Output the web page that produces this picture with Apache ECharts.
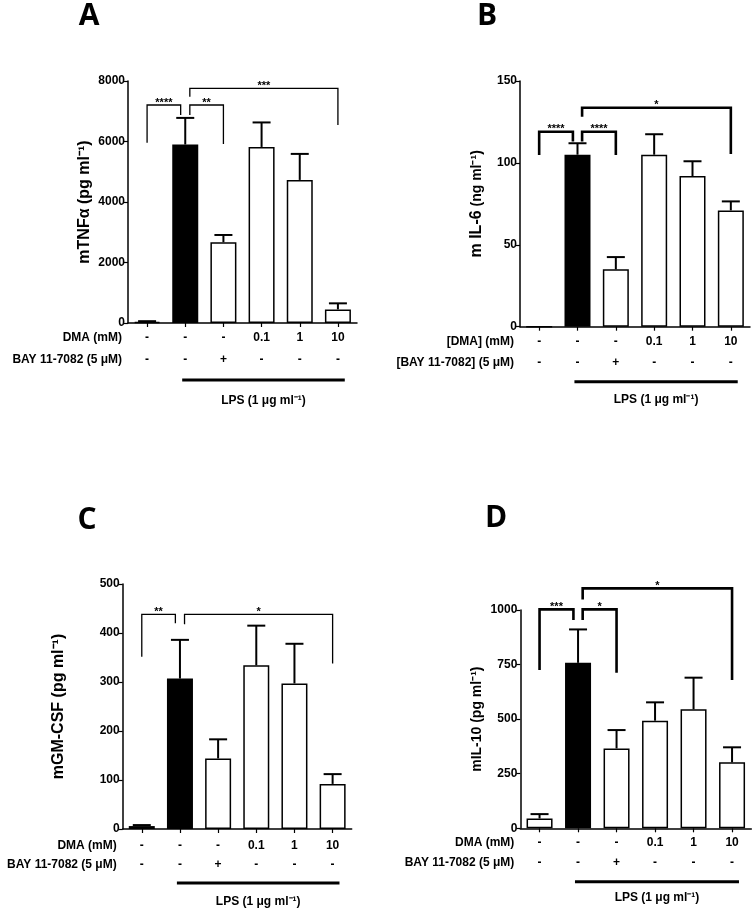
<!DOCTYPE html>
<html><head><meta charset="utf-8">
<script src="https://cdn.jsdelivr.net/npm/echarts@6/dist/echarts.min.js"></script>
<style>html,body{margin:0;padding:0;background:#fff}#c{width:754px;height:909px}</style>
</head><body><div id="c"></div>
<script>
// ---------- data ----------
const categories = ['g1', 'g2', 'g3', 'g4', 'g5', 'g6'];
const dmaLabels = ['-', '-', '-', '0.1', '1', '10'];
const bayLabels = ['-', '-', '+', '-', '-', '-'];

const tnfMean = [40, 5900, 2670, 5820, 4730, 450];
const tnfErr  = [20, 880, 240, 810, 860, 200];
const il6Mean = [0, 105, 35, 105, 92, 71];
const il6Err  = [0, 7, 7.5, 12.5, 9, 5.5];
const gmMean  = [6, 307, 144, 334, 297, 92];
const gmErr   = [2, 79, 39, 81, 81, 20];
const il10Mean = [45, 758, 366, 493, 545, 302];
const il10Err  = [20, 153, 84, 84, 145, 69];

// y axis [min, max, interval]
const tnfAxis = [0, 8000, 2000];
const il6Axis = [0, 150, 50];
const gmAxis  = [0, 500, 100];
const il10Axis = [0, 1000, 250];

// significance: [fromIndex, toIndex, bracketTop, leftLegEnd, rightLegEnd, label]
const tnfSig = [[0, 1, 7207, 5960, 6876, '****'], [1, 2, 7207, 6876, 5917, '**'], [1, 5, 7759, 7481, 6545, '***']];
const il6Sig = [[0, 1, 119, 104.8, 113, '****'], [1, 2, 119, 113, 104.8, '****'], [1, 5, 133.7, 128.2, 105.4, '*']];
const gmSig  = [[0, 1, 438, 351.6, 419.8, '**'], [1, 5, 438, 417.8, 338, '*']];
const il10Sig = [[0, 1, 1003, 725, 954, '***'], [1, 2, 1003, 954, 712, '*'], [1, 5, 1099, 1048, 679, '*']];

const lpsLabel = 'LPS (1 μg ml⁻¹)';

// ---------- layout ----------
const FF = '"Liberation Sans", Arial, sans-serif';
const panels = [
  { letter: 'A', lx: 89, ly: 16, grid: { left: 128, top: 81, width: 229, height: 242 },
    axis: tnfAxis, mean: tnfMean, err: tnfErr, sig: tnfSig, sigLw: 1.3,
    yName: '{a|mTNFα (pg ml⁻¹)}', nameGap: 35,
    rows: ['DMA (mM)', 'BAY 11-7082 (5 μM)'], lh: 22, margin: 4, lpsDy: 57, lpsTy: 78 },
  { letter: 'B', lx: 487, ly: 16, grid: { left: 520, top: 81, width: 230, height: 245.7 },
    axis: il6Axis, mean: il6Mean, err: il6Err, sig: il6Sig, sigLw: 2.6,
    yName: '{b|m IL-6}{s| (ng ml⁻¹)}', nameGap: 35,
    rows: ['[DMA] (mM)', '[BAY 11-7082] (5 μM)'], lh: 21, margin: 4.5, lpsDy: 55, lpsTy: 73 },
  { letter: 'C', lx: 87, ly: 520, grid: { left: 122.7, top: 584, width: 229, height: 245 },
    axis: gmAxis, mean: gmMean, err: gmErr, sig: gmSig, sigLw: 1.3,
    yName: '{c|mGM-CSF (pg ml⁻¹)}', nameGap: 56,
    rows: ['DMA (mM)', 'BAY 11-7082 (5 μM)'], lh: 19, margin: 7.5, lpsDy: 54, lpsTy: 72.7 },
  { letter: 'D', lx: 496, ly: 518, grid: { left: 520.3, top: 610, width: 231, height: 218.3 },
    axis: il10Axis, mean: il10Mean, err: il10Err, sig: il10Sig, sigLw: 2.6,
    yName: '{d|mIL-10 (pg ml⁻¹)}', nameGap: 36,
    rows: ['DMA (mM)', 'BAY 11-7082 (5 μM)'], lh: 20, margin: 4.4, lpsDy: 53.4, lpsTy: 69.4 }
];

const grids = [], xAxes = [], yAxes = [], series = [], graphics = [];

panels.forEach((p, k) => {
  grids.push(Object.assign({ containLabel: false }, p.grid));
  xAxes.push({
    type: 'category', gridIndex: k, data: categories,
    axisLine: { lineStyle: { color: '#000', width: 1.5 } },
    axisTick: { show: true, alignWithLabel: true, length: 4, lineStyle: { color: '#000', width: 1.2 } },
    axisLabel: {
      interval: 0, margin: p.margin, color: '#000', fontFamily: FF, fontWeight: 'bold', fontSize: 12,
      lineHeight: p.lh,
      formatter: (v, i) => dmaLabels[i] + '\n' + bayLabels[i]
    },
    splitLine: { show: false }
  });
  yAxes.push({
    type: 'value', gridIndex: k, min: p.axis[0], max: p.axis[1], interval: p.axis[2],
    axisLine: { show: true, lineStyle: { color: '#000', width: 1.5 } },
    axisTick: { show: true, length: 4, lineStyle: { color: '#000', width: 1.2 } },
    axisLabel: { margin: 3, color: '#000', fontFamily: FF, fontWeight: 'bold', fontSize: 12,
      formatter: (v) => String(v) },
    splitLine: { show: false },
    name: p.yName, nameLocation: 'middle', nameGap: p.nameGap,
    nameTextStyle: {
      color: '#000', fontFamily: FF, fontWeight: 'bold',
      rich: {
        a: { fontSize: 16, fontWeight: 'bold', fontFamily: FF, color: '#000' },
        b: { fontSize: 16, fontWeight: 'bold', fontFamily: FF, color: '#000' },
        s: { fontSize: 14, fontWeight: 'bold', fontFamily: FF, color: '#000' },
        c: { fontSize: 16, fontWeight: 'bold', fontFamily: FF, color: '#000' },
        d: { fontSize: 14, fontWeight: 'bold', fontFamily: FF, color: '#000' }
      }
    }
  });

  // bars
  series.push({
    type: 'bar', xAxisIndex: k, yAxisIndex: k, barWidth: 26,
    data: p.mean,
    itemStyle: {
      color: (prm) => prm.dataIndex === 1 ? '#000' : '#fff',
      borderColor: '#000', borderWidth: 1.5
    },
    silent: true, animation: false
  });

  // error bars
  series.push({
    type: 'custom', xAxisIndex: k, yAxisIndex: k, clip: false, animation: false, silent: true,
    data: p.mean.map((m, i) => [i, m, p.err[i]]),
    renderItem: (params, api) => {
      const i = api.value(0), m = api.value(1), e = api.value(2);
      if (!e) return null;
      const a = api.coord([i, m]), b = api.coord([i, m + e]);
      const st = { stroke: '#000', lineWidth: 2 };
      return { type: 'group', children: [
        { type: 'line', shape: { x1: a[0], y1: a[1], x2: b[0], y2: b[1] }, style: st },
        { type: 'line', shape: { x1: b[0] - 9, y1: b[1], x2: b[0] + 9, y2: b[1] }, style: st }
      ] };
    }
  });

  // significance brackets
  series.push({
    type: 'custom', xAxisIndex: k, yAxisIndex: k, clip: false, animation: false, silent: true,
    data: p.sig.map(s => [s[0], s[1], s[2], s[3], s[4]]),
    renderItem: (params, api) => {
      const from = api.value(0), to = api.value(1);
      const top = api.value(2), le = api.value(3), re = api.value(4);
      const band = api.size([1, 0])[0];
      const inset = 0.12 * band;
      const xl = api.coord([from, top])[0] + (from === 1 ? inset : 0);
      const xr = api.coord([to, top])[0] - (to === 1 ? inset : 0);
      const yt = api.coord([from, top])[1];
      const yl = api.coord([from, le])[1];
      const yr = api.coord([to, re])[1];
      return { type: 'group', children: [
        { type: 'polyline', shape: { points: [[xl, yl], [xl, yt], [xr, yt], [xr, yr]] },
          style: { stroke: '#000', fill: null, lineWidth: p.sigLw } },
        { type: 'text', style: { x: (xl + xr) / 2, y: yt + 3, text: p.sig[params.dataIndex][5],
          align: 'center', verticalAlign: 'bottom', fill: '#000',
          font: 'bold 11px ' + FF } }
      ] };
    }
  });

  // table row labels + LPS bar
  series.push({
    type: 'custom', xAxisIndex: k, yAxisIndex: k, clip: false, animation: false, silent: true,
    data: [[0, 0]],
    renderItem: (params, api) => {
      const o = api.coord([0, 0]);
      const band = api.size([1, 0])[0];
      const left = o[0] - band / 2;
      const c1 = api.coord([1, 0])[0], c5 = api.coord([5, 0])[0];
      const y0 = o[1];
      const r1 = y0 + p.margin + p.lh / 2, r2 = r1 + p.lh;
      const x1 = c1 - 0.08 * band, x2 = c5 + 0.18 * band;
      const tf = 'bold 12px ' + FF;
      return { type: 'group', children: [
        { type: 'text', style: { x: left - 6, y: r1, text: p.rows[0], align: 'right', verticalAlign: 'middle', fill: '#000', font: tf } },
        { type: 'text', style: { x: left - 6, y: r2, text: p.rows[1], align: 'right', verticalAlign: 'middle', fill: '#000', font: tf } },
        { type: 'line', shape: { x1: x1, y1: y0 + p.lpsDy, x2: x2, y2: y0 + p.lpsDy }, style: { stroke: '#000', lineWidth: 3 } },
        { type: 'text', style: { x: (x1 + x2) / 2, y: y0 + p.lpsTy, text: lpsLabel, align: 'center', verticalAlign: 'middle', fill: '#000', font: tf } }
      ] };
    }
  });

  graphics.push({
    type: 'text', x: p.lx, y: p.ly,
    style: { text: p.letter, align: 'center', verticalAlign: 'middle', fill: '#000',
      font: 'bold 30px "Open Sans", "Liberation Sans", sans-serif' }
  });
});

const chart = echarts.init(document.getElementById('c'), null, { renderer: 'canvas' });
chart.setOption({
  backgroundColor: '#fff',
  animation: false,
  textStyle: { fontFamily: FF },
  grid: grids, xAxis: xAxes, yAxis: yAxes, series: series, graphic: graphics
});
</script>
</body></html>
